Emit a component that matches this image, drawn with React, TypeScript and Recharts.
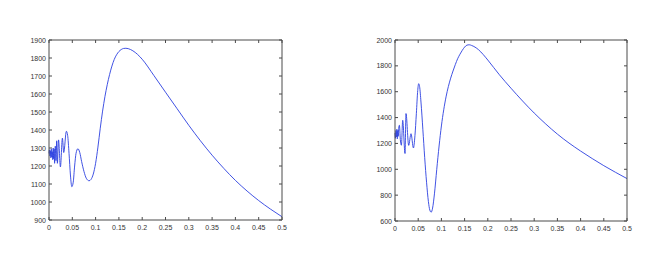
import { LineChart, Line, XAxis, YAxis } from 'recharts';

const xTicks = [0, 0.05, 0.1, 0.15, 0.2, 0.25, 0.3, 0.35, 0.4, 0.45, 0.5];
const leftYTicks = [900, 1000, 1100, 1200, 1300, 1400, 1500, 1600, 1700, 1800, 1900];
const rightYTicks = [600, 800, 1000, 1200, 1400, 1600, 1800, 2000];

const leftX = [
  0, 0.001, 0.002, 0.003, 0.004, 0.005, 0.006, 0.007, 0.008, 0.009, 0.01, 0.011, 0.012, 0.0135, 0.015,
  0.0165, 0.018, 0.0205, 0.0245, 0.0288, 0.0316, 0.0373, 0.04, 0.043, 0.046, 0.049, 0.052, 0.055, 0.058,
  0.062, 0.066, 0.07, 0.075, 0.08, 0.086, 0.09, 0.095, 0.1, 0.105, 0.11, 0.115, 0.12, 0.125, 0.13,
  0.135, 0.14, 0.145, 0.15, 0.155, 0.16, 0.165, 0.17, 0.175, 0.18, 0.19, 0.2, 0.225, 0.25, 0.275, 0.3,
  0.325, 0.35, 0.375, 0.4, 0.425, 0.45, 0.475, 0.5,
];
const leftY = [
  1270, 1290, 1255, 1285, 1245, 1295, 1250, 1280, 1235, 1300, 1240, 1295, 1215, 1310, 1230,
  1340, 1215, 1345, 1195, 1355, 1275, 1393, 1370, 1270, 1150, 1085, 1110, 1200, 1270,
  1296, 1275, 1225, 1170, 1132, 1118, 1125, 1155, 1215, 1305, 1410, 1505, 1585, 1652, 1708,
  1755, 1792, 1818, 1836, 1847, 1853, 1854, 1852, 1847, 1840, 1820, 1793, 1703, 1610, 1518, 1426,
  1340, 1260, 1187, 1120, 1061, 1008, 961, 918,
];

const rightX = [
  0, 0.001, 0.002, 0.003, 0.004, 0.005, 0.006, 0.007, 0.008, 0.0095, 0.0115, 0.0138, 0.0166, 0.0216,
  0.0237, 0.0295, 0.0345, 0.0397, 0.043, 0.046, 0.049, 0.051, 0.053, 0.056, 0.06, 0.064, 0.068, 0.072,
  0.075, 0.078, 0.081, 0.085, 0.09, 0.095, 0.1, 0.105, 0.11, 0.115, 0.12, 0.125, 0.13, 0.135, 0.14,
  0.145, 0.15, 0.155, 0.16, 0.165, 0.17, 0.18, 0.19, 0.2, 0.225, 0.25, 0.275, 0.3, 0.325, 0.35, 0.375,
  0.4, 0.425, 0.45, 0.475, 0.5,
];
const rightY = [
  1280, 1240, 1300, 1250, 1310, 1235, 1300, 1255, 1320, 1341, 1230, 1186, 1379, 1122,
  1431, 1185, 1275, 1165, 1260, 1430, 1610, 1662, 1640, 1520, 1310, 1090, 900, 750,
  685, 668, 700, 810, 1000, 1180, 1335, 1460, 1560, 1640, 1705, 1760, 1810, 1855, 1890,
  1920, 1945, 1960, 1963, 1958, 1950, 1925, 1888, 1845, 1731, 1627, 1528, 1435, 1350, 1272, 1203,
  1141, 1083, 1028, 977, 928,
];

const toRows = (xs: number[], ys: number[]) => xs.map((x, i) => ({ x, y: ys[i] }));

const AXIS = '#4a4a4a';
const TEXT = '#333';
const FONT = 'Liberation Sans, Arial, sans-serif';
const LINE = '#2b3fe0';

const BottomTick = ({ x, y, payload }: any) => (
  <g>
    <line x1={x} x2={x} y1={y} y2={y - 3} stroke={AXIS} />
    <text x={x} y={y + 10} textAnchor="middle" fontSize={7} fill={TEXT} fontFamily={FONT}>
      {payload.value}
    </text>
  </g>
);
const TopTick = ({ x, y }: any) => <line x1={x} x2={x} y1={y} y2={y + 3} stroke={AXIS} />;
const LeftTick = ({ x, y, payload }: any) => (
  <g>
    <line x1={x} x2={x + 3} y1={y} y2={y} stroke={AXIS} />
    <text x={x - 3} y={y + 2.5} textAnchor="end" fontSize={7} fill={TEXT} fontFamily={FONT}>
      {payload.value}
    </text>
  </g>
);
const RightTick = ({ x, y }: any) => <line x1={x} x2={x - 3} y1={y} y2={y} stroke={AXIS} />;

type PanelProps = {
  xs: number[];
  ys: number[];
  yTicks: number[];
  width: number;
  left: number;
  right: number;
  bottom: number;
};

const Panel = ({ xs, ys, yTicks, width, left, right, bottom }: PanelProps) => {
  const domain = [yTicks[0], yTicks[yTicks.length - 1]];
  return (
    <LineChart
      width={width}
      height={262}
      data={toRows(xs, ys)}
      margin={{ top: 39, right: right - 1, bottom, left }}
    >
      <XAxis
        dataKey="x"
        type="number"
        domain={[0, 0.5]}
        ticks={xTicks}
        interval={0}
        height={20}
        tickSize={0}
        tickMargin={0}
        tickLine={false}
        axisLine={{ stroke: AXIS }}
        tick={<BottomTick />}
      />
      <XAxis
        xAxisId="top"
        orientation="top"
        dataKey="x"
        type="number"
        domain={[0, 0.5]}
        ticks={xTicks}
        interval={0}
        height={1}
        tickSize={0}
        tickMargin={0}
        tickLine={false}
        axisLine={{ stroke: AXIS }}
        tick={<TopTick />}
      />
      <YAxis
        type="number"
        domain={domain}
        ticks={yTicks}
        interval={0}
        width={40}
        tickSize={0}
        tickMargin={0}
        tickLine={false}
        axisLine={{ stroke: AXIS }}
        tick={<LeftTick />}
        allowDataOverflow
      />
      <YAxis
        yAxisId="right"
        orientation="right"
        type="number"
        domain={domain}
        ticks={yTicks}
        interval={0}
        width={1}
        tickSize={0}
        tickMargin={0}
        tickLine={false}
        axisLine={{ stroke: AXIS }}
        tick={<RightTick />}
        allowDataOverflow
      />
      <Line
        xAxisId="top"
        yAxisId="right"
        dataKey="y"
        stroke="none"
        dot={false}
        activeDot={false}
        isAnimationActive={false}
      />
      <Line
        dataKey="y"
        type="monotone"
        stroke={LINE}
        strokeWidth={0.9}
        dot={false}
        isAnimationActive={false}
      />
    </LineChart>
  );
};

export default function App() {
  return (
    <div style={{ position: 'absolute', left: 0, top: 0, width: 658, height: 262, background: '#fff' }}>
      <div style={{ position: 'absolute', left: 0, top: 0 }}>
        <Panel xs={leftX} ys={leftY} yTicks={leftYTicks} width={330} left={9} right={48} bottom={22} />
      </div>
      <div style={{ position: 'absolute', left: 330, top: 0 }}>
        <Panel xs={rightX} ys={rightY} yTicks={rightYTicks} width={328} left={25} right={31} bottom={21} />
      </div>
    </div>
  );
}
